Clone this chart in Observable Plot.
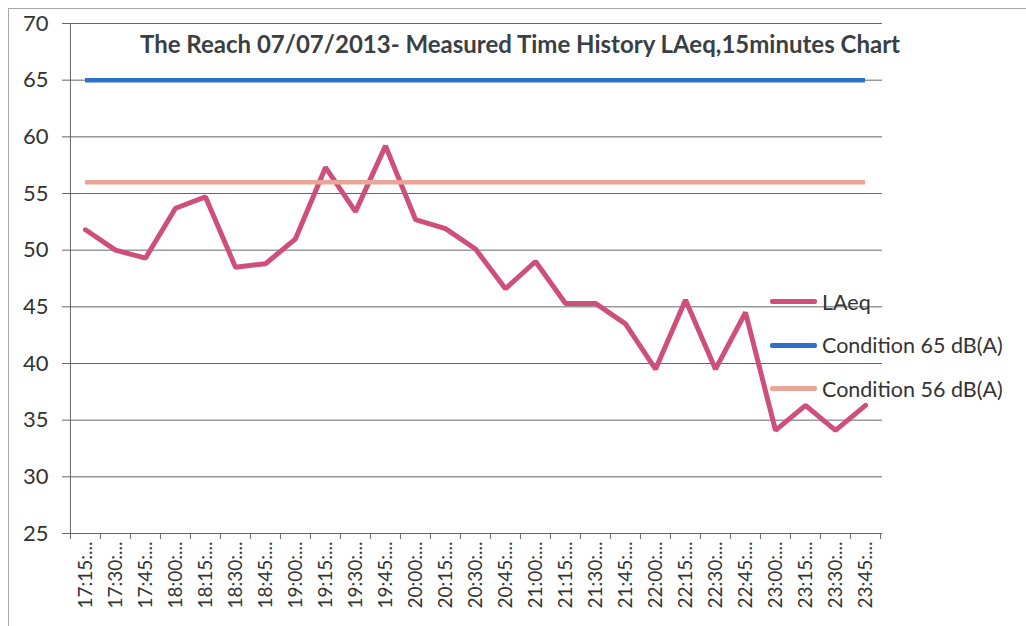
<!DOCTYPE html>
<html>
<head>
<meta charset="utf-8">
<script src="https://cdn.jsdelivr.net/npm/d3@7"></script>
<script src="https://cdn.jsdelivr.net/npm/@observablehq/plot@0.6"></script>
<style>
  html, body { margin: 0; padding: 0; background: #fff; }
  #wrap { position: relative; width: 1026px; height: 626px; overflow: hidden; font-family: Lato, "Open Sans", sans-serif; }
  #border { position: absolute; left: 8px; top: 8px; width: 1030px; height: 640px; border-left: 1px solid #a8a8a8; border-top: 1px solid #a8a8a8; pointer-events: none; }
  #title { position: absolute; left: 140px; top: 29px; font-weight: bold; font-size: 24px; color: #3a3f44; white-space: nowrap; }
  #legend { position: absolute; left: 770px; top: 280px; }
  .item { display: flex; align-items: center; height: 43.5px; font-size: 21.5px; color: #333; }
  .sw { width: 47px; height: 5px; margin-right: 5px; border-radius: 2px; }
</style>
</head>
<body>
<div id="wrap">
  <div id="chart"></div>
  <div id="border"></div>
  <div id="title"></div>
  <div id="legend"></div>
</div>
<script>
// ---- data ----
const times = ["17:15","17:30","17:45","18:00","18:15","18:30","18:45","19:00","19:15","19:30","19:45",
  "20:00","20:15","20:30","20:45","21:00","21:15","21:30","21:45","22:00","22:15","22:30","22:45",
  "23:00","23:15","23:30","23:45"];
const laeq = [51.8, 50.0, 49.3, 53.7, 54.7, 48.5, 48.8, 51.0, 57.3, 53.4, 59.2,
  52.7, 51.9, 50.1, 46.6, 49.0, 45.3, 45.3, 43.5, 39.5, 45.6, 39.5, 44.5,
  34.1, 36.3, 34.1, 36.3];
const condition65 = 65;
const condition56 = 56;
const yTicks = [25, 30, 35, 40, 45, 50, 55, 60, 65, 70];
const seriesNames = ["LAeq", "Condition 65 dB(A)", "Condition 56 dB(A)"];
const seriesColors = ["#cf4f7c", "#2a72c8", "#e9a596"];
const titleText = "The Reach 07/07/2013- Measured Time History LAeq,15minutes Chart";

// ---- layout ----
const W = 1026, H = 626, ML = 68, MR = 144, MT = 23, MB = 93;
const step = (W - ML - MR) / times.length;
const first = times[0], last = times[times.length - 1];

const data = times.map((t, i) => ({t, v: laeq[i]}));
const conditions = [
  {v: condition65, a: first, b: last, c: seriesColors[1]},
  {v: condition56, a: first, b: last, c: seriesColors[2]}
];

const chart = Plot.plot({
  width: W, height: H,
  marginLeft: ML, marginRight: MR, marginTop: MT, marginBottom: MB,
  style: {fontFamily: "Lato, 'Open Sans', sans-serif", background: "white", color: "#333"},
  x: {type: "point", domain: times, padding: 0.5, label: null},
  y: {domain: [25, 70], label: null},
  marks: [
    Plot.ruleY(yTicks, {stroke: "#666", strokeWidth: 1}),
    Plot.ruleX([first], {y1: 25, y2: 70, dx: -step / 2, stroke: "#666"}),
    Plot.axisY({ticks: yTicks, tickSize: 6, tickPadding: 14, fontSize: 22, stroke: "#666", fill: "#333"}),
    Plot.axisX({ticks: times, tickSize: 6, tickFormat: () => "", dx: -step / 2, stroke: "#666"}),
    Plot.axisX({ticks: [last], tickSize: 6, tickFormat: () => "", dx: step / 2, stroke: "#666"}),
    Plot.axisX({ticks: times, tickSize: 0, tickPadding: 8, tickRotate: -90, fontSize: 19, fill: "#333",
      tickFormat: d => d + ":..."}),
    Plot.line(data, {x: "t", y: "v", stroke: seriesColors[0], strokeWidth: 5, strokeLinejoin: "miter"}),
    Plot.ruleY(conditions, {y: "v", x1: "a", x2: "b", stroke: "c", strokeWidth: 4.5})
  ]
});
document.getElementById("chart").appendChild(chart);
document.getElementById("title").textContent = titleText;

const legend = document.getElementById("legend");
seriesNames.forEach((n, i) => {
  const row = document.createElement("div");
  row.className = "item";
  const sw = document.createElement("div");
  sw.className = "sw";
  sw.style.background = seriesColors[i];
  const lab = document.createElement("span");
  lab.textContent = n;
  row.appendChild(sw);
  row.appendChild(lab);
  legend.appendChild(row);
});
</script>
</body>
</html>
